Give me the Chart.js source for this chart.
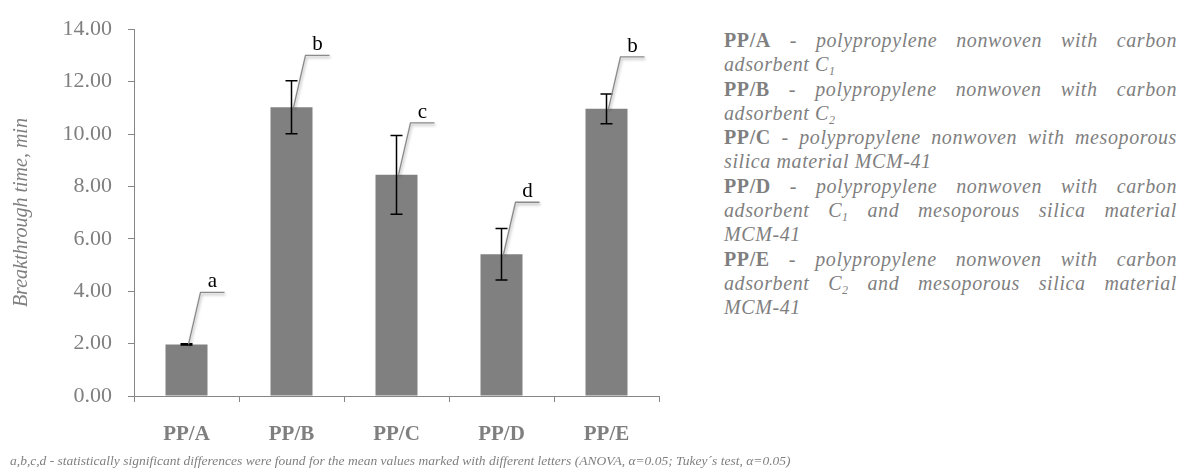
<!DOCTYPE html>
<html>
<head>
<meta charset="utf-8">
<script src="https://cdn.jsdelivr.net/npm/chart.js@4"></script>
<style>
  body { margin: 0; background: #fff; width: 1182px; height: 475px; position: relative; overflow: hidden; font-family: "Liberation Serif", serif; }
  #wrap { position: absolute; left: 0; top: 0; width: 680px; height: 475px; }
  #legend { position: absolute; left: 724px; top: 28px; width: 453px; color: #7f7f7f; font-size: 20px; line-height: 24.3px; letter-spacing: 0.6px; }
  #legend div { white-space: nowrap; }
  #legend div.just { text-align: justify; text-align-last: justify; white-space: normal; }
  #legend b { font-style: normal; }
  #legend i sub { font-size: 0.6em; vertical-align: -0.35em; line-height: 0; }
  #note { position: absolute; left: 10px; top: 453px; font-size: 13.5px; font-style: italic; color: #7f7f7f; white-space: nowrap; }
</style>
</head>
<body>
<div id="wrap"><canvas id="chart"></canvas></div>
<div id="legend"></div>
<div id="note"></div>
<script>
const categories = ["PP/A", "PP/B", "PP/C", "PP/D", "PP/E"];
const breakthroughTime = [1.97, 11.02, 8.44, 5.41, 10.96];
const stdDev = [0.02, 1.01, 1.5, 0.98, 0.57];
const groupLetters = ["a", "b", "c", "d", "b"];
const yMin = 0, yMax = 14, yStep = 2;

const legendCodes = ["PP/A", "PP/B", "PP/C", "PP/D", "PP/E"];
const legendLines = [
  ["polypropylene nonwoven with carbon", "adsorbent C<sub>1</sub>"],
  ["polypropylene nonwoven with carbon", "adsorbent C<sub>2</sub>"],
  ["polypropylene nonwoven with mesoporous", "silica material MCM-41"],
  ["polypropylene nonwoven with carbon", "adsorbent C<sub>1</sub> and mesoporous silica material", "MCM-41"],
  ["polypropylene nonwoven with carbon", "adsorbent C<sub>2</sub> and mesoporous silica material", "MCM-41"]
];
const footnote = "a,b,c,d - statistically significant differences were found for the mean values marked with different letters (ANOVA, \u03b1=0.05; Tukey\u00b4s test, \u03b1=0.05)";

// legend text on the right
const legend = document.getElementById("legend");
legendCodes.forEach((code, k) => {
  legendLines[k].forEach((line, j) => {
    const d = document.createElement("div");
    if (j < legendLines[k].length - 1) d.className = "just";
    d.innerHTML = (j === 0 ? "<b>" + code + "</b> - " : "") + "<i>" + line + "</i>";
    legend.appendChild(d);
  });
});
document.getElementById("note").textContent = footnote;

Chart.defaults.font.family = "Liberation Serif";
Chart.defaults.color = "#7f7f7f";

const errorBars = {
  id: "errorBars",
  afterDatasetsDraw(chart) {
    const ctx = chart.ctx;
    const y = chart.scales.y;
    const bars = chart.getDatasetMeta(0).data;
    ctx.save();
    ctx.strokeStyle = "#000";
    ctx.lineWidth = 1.5;
    bars.forEach((bar, i) => {
      const top = y.getPixelForValue(breakthroughTime[i] + stdDev[i]);
      const bot = y.getPixelForValue(breakthroughTime[i] - stdDev[i]);
      ctx.beginPath();
      ctx.moveTo(bar.x, top); ctx.lineTo(bar.x, bot);
      ctx.moveTo(bar.x - 6, top); ctx.lineTo(bar.x + 6, top);
      ctx.moveTo(bar.x - 6, bot); ctx.lineTo(bar.x + 6, bot);
      ctx.stroke();
    });
    ctx.restore();
  }
};

// letter callouts above bars
const callouts = {
  id: "callouts",
  afterDatasetsDraw(chart) {
    const ctx = chart.ctx;
    const bars = chart.getDatasetMeta(0).data;
    bars.forEach((bar, i) => {
      const x0 = bar.x + 2, y0 = bar.y;
      const x1 = bar.x + 14, y1 = bar.y - 52;
      const x2 = bar.x + 38;
      ctx.save();
      ctx.shadowColor = "rgba(0,0,0,0.35)";
      ctx.shadowBlur = 3;
      ctx.shadowOffsetX = 1;
      ctx.shadowOffsetY = 2;
      ctx.strokeStyle = "#8a8a8a";
      ctx.lineWidth = 1.3;
      ctx.beginPath();
      ctx.moveTo(x0, y0); ctx.lineTo(x1, y1); ctx.lineTo(x2, y1);
      ctx.stroke();
      ctx.restore();
      ctx.save();
      ctx.fillStyle = "#000";
      ctx.font = "21px 'Liberation Serif'";
      ctx.textAlign = "center";
      ctx.textBaseline = "alphabetic";
      ctx.fillText(groupLetters[i], bar.x + 26, y1 - 5);
      ctx.restore();
    });
  }
};

new Chart(document.getElementById("chart"), {
  type: "bar",
  data: {
    labels: categories,
    datasets: [{
      label: "Breakthrough time",
      data: breakthroughTime,
      backgroundColor: "#808080",
      barPercentage: 0.4,
      categoryPercentage: 1.0
    }]
  },
  options: {
    responsive: true,
    maintainAspectRatio: false,
    animation: false,
    layout: { padding: { top: 21, right: 21, bottom: 0, left: 0 } },
    plugins: { legend: { display: false }, tooltip: { enabled: false } },
    scales: {
      x: {
        grid: { offset: true, drawOnChartArea: false, tickLength: 6, color: "#868686" },
        border: { color: "#868686" },
        ticks: { font: { size: 21, weight: "bold" }, color: "#7f7f7f", padding: 20 },
        afterFit(scale) { scale.height = 79; }
      },
      y: {
        min: yMin,
        max: yMax,
        ticks: {
          stepSize: yStep,
          font: { size: 22 },
          color: "#7f7f7f",
          padding: 16,
          callback: v => v.toFixed(2)
        },
        grid: { drawOnChartArea: false, tickLength: 6, color: "#868686" },
        border: { color: "#868686" },
        title: {
          display: true,
          text: "Breakthrough time, min",
          font: { size: 20, style: "italic" },
          color: "#7f7f7f",
          padding: { top: 10, bottom: 0 }
        },
        afterFit(scale) { scale.width = 134; }
      }
    }
  },
  plugins: [errorBars, callouts]
});
</script>
</body>
</html>
